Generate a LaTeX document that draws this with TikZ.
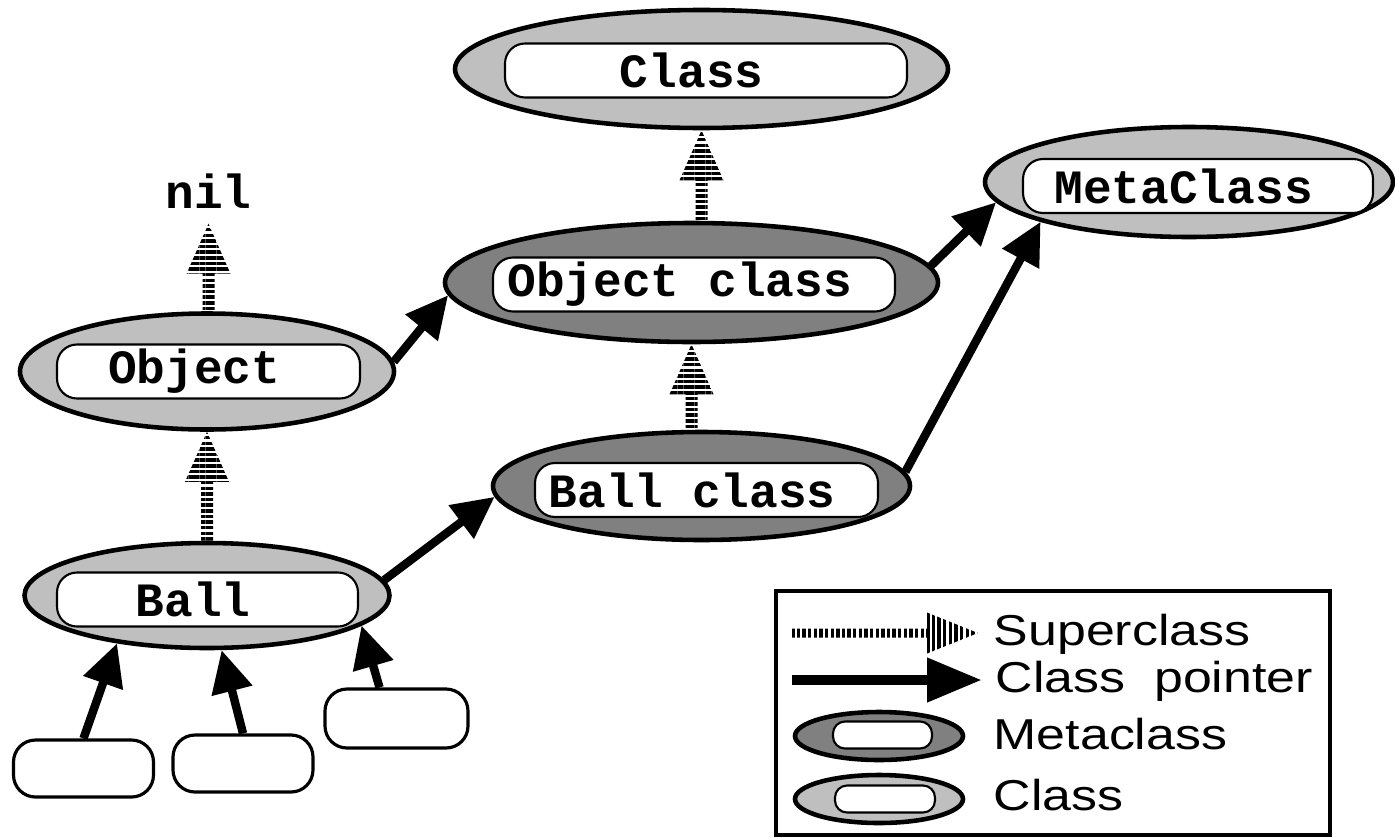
\documentclass[tikz,border=0pt]{standalone}
\usepackage{fontspec}
\setmonofont{Liberation Mono}
\newfontfamily\keyfont[FakeStretch=1.2]{Liberation Sans}
\usepackage{tikz}
\usetikzlibrary{arrows.meta,calc,shapes.geometric,patterns.meta}
\definecolor{clsGray}{gray}{0.75}
\definecolor{metaGray}{gray}{0.5}
% striped superclass arrow, pointing up from #1 to #2
\newcommand\supup[2]{%
  \path[supfill] let \p1=(#1), \p2=(#2) in
    (\x2-0.06cm,\y1) -- (\x2-0.06cm,\y2-0.5cm) -- (\x2-0.22cm,\y2-0.5cm) -- (\p2)
    -- (\x2+0.22cm,\y2-0.5cm) -- (\x2+0.06cm,\y2-0.5cm) -- (\x2+0.06cm,\y1) -- cycle;}

\begin{document}
\begin{tikzpicture}[
  cls/.style={ellipse, draw, line width=1.3pt, fill=clsGray, inner sep=0pt},
  meta/.style={cls, fill=metaGray},
  lbl/.style={draw, fill=white, rounded corners=2mm, line width=0.6pt, inner sep=0pt, minimum height=5.4mm,
    font=\fontsize{13.6}{16}\selectfont\ttfamily\bfseries, execute at end node=\hphantom{x}},
  keylbl/.style={draw, fill=white, rounded corners=1.2mm, line width=0.6pt, inner sep=0pt, minimum height=2.7mm},
  leaf/.style={draw, rounded corners=2.2mm, line width=0.9pt, minimum width=1.4cm, minimum height=5.7mm},
  ptr/.style={line width=2.4pt, -{Triangle[length=4.2mm,width=4mm]}},
  supfill/.style={pattern={Lines[angle=0,distance=1.6pt,line width=1pt]}},
  key/.style={font=\fontsize{12.3}{14}\selectfont\keyfont, anchor=base west, inner sep=0pt}]
\useasboundingbox (0,0) rectangle (13.95,-8.37);
% classes and metaclasses
\node[cls, minimum width=4.93cm, minimum height=1.18cm] (class) at (7.015,-0.69) {};
\node[lbl, minimum width=4.02cm] (class-t) at (7.06,-0.705) {Class};
\node[cls, minimum width=4.08cm, minimum height=1.10cm] (metacls) at (11.89,-1.82) {};
\node[lbl, minimum width=3.50cm] (metacls-t) at (11.98,-1.86) {MetaClass};
\node[meta, minimum width=4.93cm, minimum height=1.19cm] (objcls) at (6.915,-2.825) {};
\node[lbl, minimum width=4.02cm] (objcls-t) at (6.94,-2.845) {Object class};
\node[meta, minimum width=4.17cm, minimum height=1.08cm] (ballcls) at (7.015,-4.86) {};
\node[lbl, minimum width=3.43cm] (ballcls-t) at (7.065,-4.90) {Ball class};
\node[cls, minimum width=3.74cm, minimum height=1.16cm] (obj) at (2.07,-3.715) {};
\node[lbl, minimum width=3.03cm] (obj-t) at (2.085,-3.715) {Object};
\node[cls, minimum width=3.65cm, minimum height=1.05cm] (ball) at (2.07,-5.955) {};
\node[lbl, minimum width=3.01cm] (ball-t) at (2.075,-5.995) {Ball};
\node[font=\fontsize{13.6}{16}\selectfont\ttfamily\bfseries, inner xsep=0pt, inner ysep=1.5mm, anchor=base] (nil) at (2.085,-2.08) {nil};
% superclass chain
\supup{ball.north}{obj.south}
\supup{obj.north}{nil.south}
\supup{ballcls.north}{objcls.south}
\supup{objcls.north}{class.south}
% class pointers
\draw[ptr] (obj.3) -- (objcls.183);
\draw[ptr] (ball.5) -- (ballcls.183);
\draw[ptr] (objcls.4) -- (metacls.186);
\draw[ptr] (ballcls.4) -- (metacls.195);
% instances of Ball
\node[leaf] (b1) at (0.835,-7.685) {};
\node[leaf] (b2) at (2.43,-7.635) {};
\node[leaf, minimum width=1.43cm, minimum height=5.9mm] (b3) at (3.965,-7.185) {};
\draw[ptr] (b1.north) -- (ball.208);
\draw[ptr] (b2.north) -- (ball.285);
\draw[ptr] ([xshift=-1.7mm]b3.north) -- (ball.349);
% legend
\node[draw, line width=1.4pt, minimum width=5.54cm, minimum height=2.44cm, inner sep=0pt] (keybox) at (10.53,-7.13) {};
\coordinate (ksup) at (7.92,-6.33);
\coordinate (kptr) at (7.92,-6.80);
\path[pattern={Lines[angle=90,distance=1.6pt,line width=0.95pt]}] (ksup) ++(0,0.045) -- ++(1.35,0)
  -- ++(0,0.16) -- ++(0.51,-0.205) -- ++(-0.51,-0.205) -- ++(0,0.16) -- ++(-1.35,0) -- cycle;
\draw[line width=3pt, -{Triangle[length=5.5mm,width=4.2mm]}] (kptr) -- ++(1.90,0);
\node[meta, minimum width=1.68cm, minimum height=4.8mm] (kmeta) at (8.79,-7.36) {};
\node[keylbl, minimum width=9.9mm] (kmeta-t) at (8.825,-7.35) {};
\node[cls, minimum width=1.68cm, minimum height=4.8mm] (kcls) at (8.79,-7.99) {};
\node[keylbl, minimum width=10mm] (kcls-t) at (8.85,-7.99) {};
\node[key] (k1) at (9.93,-6.45) {Superclass};
\node[key] (k2) at (9.95,-6.92) {Class\ \ pointer};
\node[key] (k3) at (9.93,-7.49) {Metaclass};
\node[key] (k4) at (9.93,-8.10) {Class};
\end{tikzpicture}
\end{document}
